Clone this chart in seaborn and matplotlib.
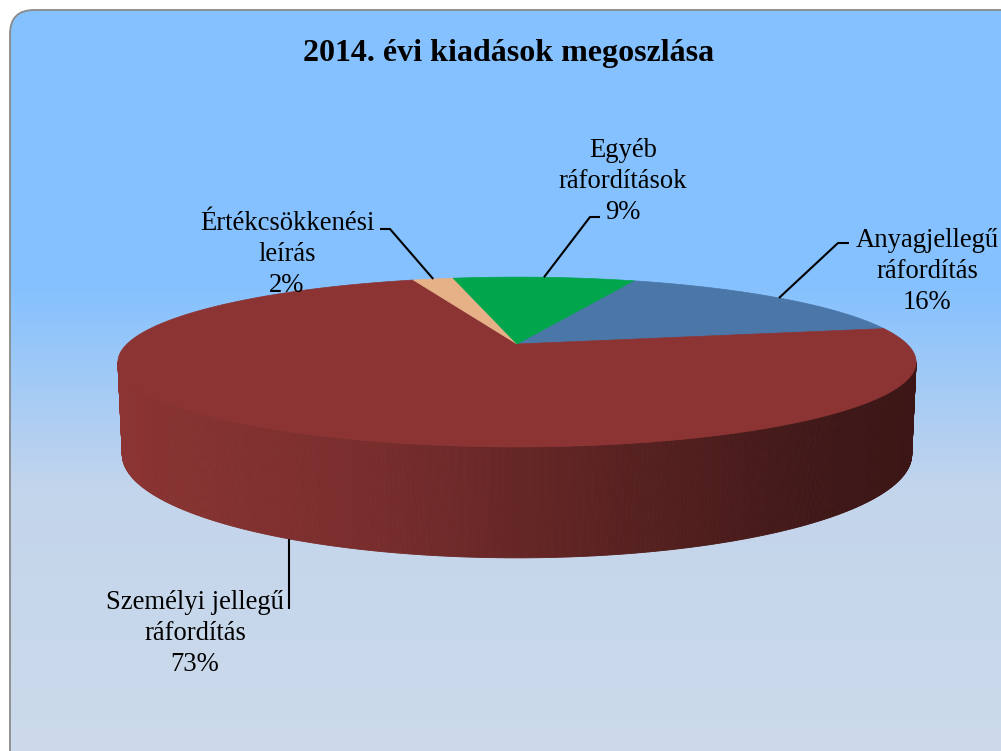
import numpy as np
import matplotlib
matplotlib.use("Agg")
import matplotlib.pyplot as plt
from matplotlib.patches import FancyBboxPatch, Polygon
from matplotlib.collections import PolyCollection
import seaborn as sns

# data
title = "2014. évi kiadások megoszlása"
categories = ["Anyagjellegű\nráfordítás", "Személyi jellegű\nráfordítás",
              "Értékcsökkenési\nleírás", "Egyéb\nráfordítások"]
values = [16, 73, 2, 9]
slice_colors = ["#4A76A8", "#8B3433", "#E6B186", "#00A54C"]

# label layout (pixel coords: centre x, first baseline y) and leader elbows
label_pos = [(927, 247), (195, 609), (287, 230), (623, 157)]
elbows = [[(838, 243), (849, 243)], [(289, 609)],
          [(390, 229), (380, 229)], [(590, 217), (600, 217)]]

sns.set_style("white")
plt.rcParams['font.family'] = ['Liberation Serif', 'DejaVu Serif']

W, H = 1001, 751
fig = plt.figure(figsize=(W / 100, H / 100), dpi=100)
ax = fig.add_axes([0, 0, 1, 1])
ax.set_xlim(0, W)
ax.set_ylim(H, 0)
ax.axis("off")

# background: rounded panel with vertical gradient
panel = FancyBboxPatch((10, 10), 1040, 800, boxstyle="round,pad=0,rounding_size=24",
                       facecolor="none", edgecolor="#8A8A8A", linewidth=1.3, zorder=2)
ax.add_patch(panel)
ys = np.arange(H)
stops_y = [0, 285, 490, 751]
stops_c = np.array([matplotlib.colors.to_rgb(c) for c in
                    ["#85C1FF", "#85C1FF", "#C3D5EC", "#CCDAEA"]])
grad = np.stack([np.interp(ys, stops_y, stops_c[:, k]) for k in range(3)], axis=1)
img = ax.imshow(grad[:, None, :], extent=[0, W, H, 0], aspect="auto", zorder=0)
img.set_clip_path(panel)

# simple perspective camera for the 3d pie
CX, CY = 517, 344
ELEV = np.radians(12)
DIST = 4.61
FOC = 1798
DEPTH = 0.235
START = 69


def project(phi, h=0.0, r=1.0):
    phi = np.radians(phi)
    x, z = r * np.cos(phi), r * np.sin(phi)
    w = z * np.cos(ELEV) - h * np.sin(ELEV)
    v = z * np.sin(ELEV) + h * np.cos(ELEV)
    s = FOC / (DIST + w)
    return CX + x * s, CY - v * s


total = float(sum(values))
cum = np.concatenate([[0], np.cumsum(values)]) / total * 360
starts = START - cum[:-1]
ends = START - cum[1:]


def wedge_at(phi):
    d = (START - phi) % 360
    return int(np.searchsorted(cum, d, side="right") - 1)


# side wall (front half, shaded left to right)
kappa = np.degrees(np.arcsin(np.cos(ELEV) / DIST))
phis = np.linspace(-180 + kappa, -kappa, 500)
xl, _ = project(-180 + kappa)
xr, _ = project(-kappa)
quads, cols = [], []
for p0, p1 in zip(phis[:-1], phis[1:]):
    xa, ya = project(p0)
    xb, yb = project(p1)
    xc, yc = project(p1, -DEPTH)
    xd, yd = project(p0, -DEPTH)
    quads.append([(xa, ya), (xb, yb), (xc, yc), (xd, yd)])
    base = np.array(matplotlib.colors.to_rgb(slice_colors[wedge_at((p0 + p1) / 2)]))
    t = ((xa + xb) / 2 - xl) / (xr - xl)
    f = np.interp(t, [0, 0.33, 0.7, 0.9, 1], [1.0, 0.86, 0.59, 0.45, 0.43])
    cols.append(base * f)
ax.add_collection(PolyCollection(quads, facecolors=cols, edgecolors=cols,
                                 linewidths=0.6, zorder=3))

# top face
apex = project(0, r=0)
for i in range(len(values)):
    arc = np.linspace(starts[i], ends[i], 200)
    px, py = project(arc)
    pts = [apex] + list(zip(px, py))
    ax.add_patch(Polygon(pts, closed=True, facecolor=slice_colors[i],
                         edgecolor=slice_colors[i], linewidth=0.5, zorder=4))

# leader lines and labels
for i, name in enumerate(categories):
    mid = (starts[i] + ends[i]) / 2
    front = np.sin(np.radians(mid)) < -np.cos(ELEV) / DIST
    if front:
        # hang the leader straight down from the bottom rim of the wedge
        cand = np.linspace(ends[i], starts[i], 2000)
        bx, by = project(cand, -DEPTH)
        k = np.argmin(np.abs(bx - elbows[i][0][0]) + 1e3 * (np.sin(np.radians(cand)) > 0))
        ax0 = (elbows[i][0][0], by[k])
    else:
        ax0 = project(mid)
    pts = [ax0] + elbows[i]
    ax.plot([p[0] for p in pts], [p[1] for p in pts], color="black",
            linewidth=1.5, solid_capstyle="butt", zorder=5)
    lines = name.split("\n") + [f"{values[i]:.0f}%"]
    lx, ly = label_pos[i]
    for j, line in enumerate(lines):
        ax.text(lx, ly + j * 31, line, ha="center", va="baseline",
                fontsize=19.2, color="black", zorder=6)

ax.text(509, 61, title, ha="center", va="baseline", fontsize=23,
        fontweight="bold", color="black", zorder=6)

fig.savefig("out.png", dpi=100)
